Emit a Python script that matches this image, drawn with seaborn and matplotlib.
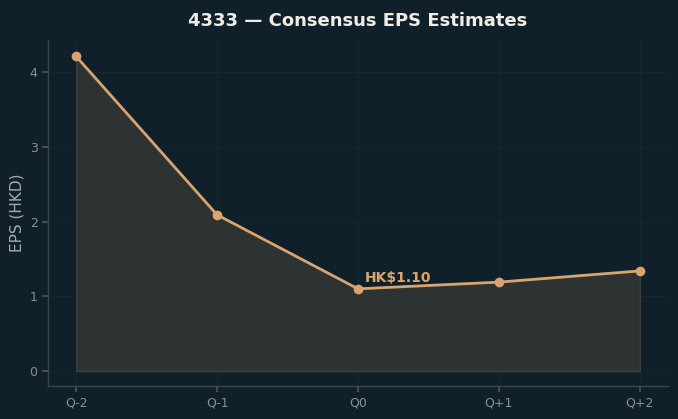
import matplotlib
matplotlib.use("Agg")
import matplotlib.pyplot as plt
import seaborn as sns
import pandas as pd

quarters = ["Q-2", "Q-1", "Q0", "Q+1", "Q+2"]
eps = [4.21, 2.09, 1.10, 1.19, 1.34]
title = "4333 — Consensus EPS Estimates"
ylabel = "EPS (HKD)"
annot = "HK$1.10"

BG = "#10202a"
LINE = "#d9a46e"
sns.set_theme(style="dark")
plt.rcParams["font.family"] = ["DejaVu Sans"]

df = pd.DataFrame({"q": quarters, "eps": eps, "x": range(len(quarters))})

fig = plt.figure(figsize=(6.78, 4.19), dpi=100, facecolor=BG)
ax = fig.add_axes([0.0708, 0.0788, 0.9145, 0.8257])
ax.set_facecolor(BG)

ax.fill_between(df["x"], df["eps"], 0, color="#3a3a36", alpha=0.7,
                edgecolor="#4a4a44", linewidth=1, zorder=1)
sns.lineplot(data=df, x="x", y="eps", ax=ax, color=LINE, linewidth=2,
             marker="o", markersize=7, markeredgewidth=0, zorder=3)

ax.annotate(annot, xy=(2, eps[2]), xytext=(5, 3), textcoords="offset points",
            color=LINE, fontsize=10, fontweight="bold", ha="left", va="bottom")

ax.set_xticks(df["x"])
ax.set_xticklabels(quarters)
ax.set_xlim(-0.2, 4.2)
ax.set_ylim(-0.2, 4.43)
ax.set_yticks([0, 1, 2, 3, 4])
ax.set_xlabel("")
ax.set_ylabel(ylabel, color="#a3abb0", fontsize=11)
ax.tick_params(colors="#8a9196", labelsize=9, length=4, color="#4a5256",
               left=True, bottom=True)
ax.grid(True, color="#16262f", linewidth=0.8)
for s in ["top", "right"]:
    ax.spines[s].set_visible(False)
for s in ["left", "bottom"]:
    ax.spines[s].set_color("#3c4649")
    ax.spines[s].set_linewidth(1)
ax.set_title(title, color="#f0ede6", fontsize=13, fontweight="bold", pad=10)

fig.savefig("out.png", dpi=100, facecolor=BG)
